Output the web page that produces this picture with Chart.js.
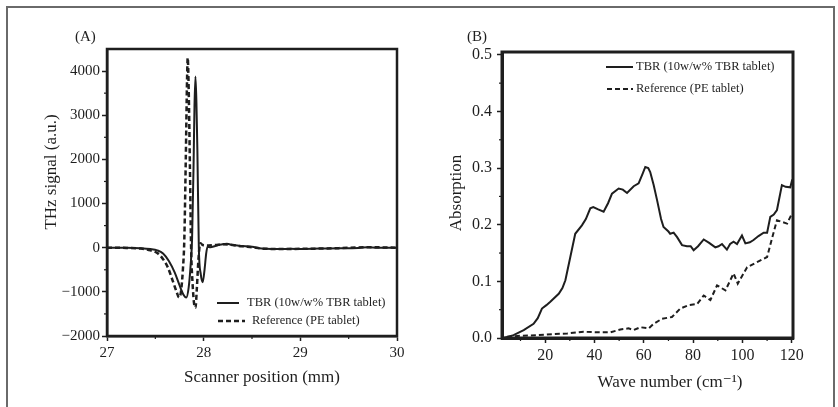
<!DOCTYPE html>
<html><head><meta charset="utf-8">
<script src="https://cdn.jsdelivr.net/npm/chart.js@4.4.1/dist/chart.umd.min.js"></script>
<style>
html,body{margin:0;padding:0;background:#fff;}
body{width:838px;height:407px;position:relative;overflow:hidden;}
#ca{position:absolute;left:0;top:0;}
#cb{position:absolute;left:420px;top:0;}
#frame{position:absolute;left:6px;top:6px;width:825px;height:600px;border:2px solid #6a6a6a;pointer-events:none;}
</style></head><body>
<canvas id="ca" width="420" height="407"></canvas>
<canvas id="cb" width="418" height="407"></canvas>
<div id="frame"></div>
<script>
// ---------- Data ----------
const LEGEND_LABELS = ['TBR (10w/w% TBR tablet)', 'Reference (PE tablet)'];

// Panel A: THz waveforms
const A_X_TICKS = [27, 28, 29, 30];
const A_Y_TICKS = [-2000, -1000, 0, 1000, 2000, 3000, 4000];
const A_X_MINOR = [27.5, 28.5, 29.5];
const A_Y_MINOR = [-1500, -500, 500, 1500, 2500, 3500];

const A_TBR_X = [27.00,27.20,27.35,27.45,27.52,27.58,27.64,27.70,27.75,27.79,27.82,27.845,27.865,27.88,27.895,27.905,27.915,27.925,27.935,27.95,27.97,27.99,28.01,28.025,28.04,28.07,28.12,28.18,28.24,28.30,28.40,28.50,28.60,28.70,28.80,28.90,29.00,29.20,29.40,29.60,29.70,29.80,30.00];
const A_TBR_Y = [0,0,-10,-30,-60,-130,-300,-560,-850,-1060,-1130,-900,-400,200,1800,3200,3880,3300,2200,0,-600,-780,-480,-150,20,10,40,70,90,60,40,20,-20,-30,-30,-25,-30,-20,-15,-5,10,0,0];

const A_REF_X = [27.00,27.20,27.35,27.45,27.52,27.58,27.63,27.68,27.72,27.745,27.765,27.785,27.80,27.815,27.828,27.835,27.845,27.858,27.87,27.885,27.90,27.915,27.93,27.945,27.965,27.99,28.05,28.12,28.20,28.30,28.40,28.50,28.60,28.80,29.00,29.20,29.40,29.70,30.00];
const A_REF_Y = [0,-5,-20,-60,-120,-260,-450,-750,-1000,-1130,-1000,-500,200,2000,3800,4300,3600,1800,0,-800,-1250,-1360,-900,-300,100,60,50,60,80,60,30,10,-20,-30,-25,-20,-10,10,0];

// Panel B: absorption spectra
const B_X_TICKS = [20, 40, 60, 80, 100, 120];
const B_Y_TICKS = [0, 0.1, 0.2, 0.3, 0.4, 0.5];
const B_X_MINOR = [10, 30, 50, 70, 90, 110];
const B_Y_MINOR = [0.05, 0.15, 0.25, 0.35, 0.45];

const B_TBR_X = [3.2,7.2,11.3,15.3,17,18.7,20.5,22.1,25.5,27,28.2,30.2,32.2,34.9,36.5,38.3,39.5,41.5,43.7,45.5,47.1,49.8,51.5,53.2,55.9,57.9,59.5,60.6,61.8,62.6,64,65.4,67,68,70,70.7,72.1,73.5,75.5,77.5,79,80.2,82,84.3,86.5,89,90.3,91.7,93.7,95,96.4,97.8,99.8,101.2,103,104.5,106.5,108.6,110,111.3,112.7,114,116,117.5,119.4,120.2];
const B_TBR_Y = [0,0.005,0.014,0.025,0.035,0.052,0.058,0.064,0.078,0.088,0.102,0.143,0.184,0.199,0.21,0.229,0.231,0.227,0.223,0.238,0.255,0.264,0.262,0.256,0.268,0.273,0.29,0.302,0.300,0.293,0.27,0.243,0.21,0.196,0.188,0.184,0.186,0.178,0.164,0.162,0.162,0.155,0.162,0.174,0.168,0.16,0.162,0.166,0.156,0.166,0.17,0.166,0.181,0.167,0.169,0.173,0.18,0.186,0.186,0.214,0.218,0.226,0.27,0.267,0.266,0.28];

const B_REF_X = [4.5,9.9,16.7,23.4,28.9,35.6,42.4,46.4,50.5,53.8,55.9,58.6,62,64,67.4,71.4,74.8,78.2,81.6,84.3,87,89.7,93.1,96.4,98.1,101.9,105.9,110,112,114,116,118.1,120.1];
const B_REF_Y = [0.002,0.004,0.005,0.007,0.008,0.011,0.01,0.01,0.015,0.017,0.014,0.019,0.017,0.025,0.034,0.037,0.052,0.058,0.06,0.075,0.067,0.093,0.084,0.114,0.096,0.125,0.134,0.143,0.176,0.208,0.205,0.202,0.22];

// ---------- Styling / helpers ----------
const INK = '#1e1e1e';
const SERIF = '"Liberation Serif", "DejaVu Serif", serif';
const pts = (xs, ys) => xs.map((x, i) => ({x: x, y: ys[i]}));

const decor = {
  id: 'decor',
  afterDraw(chart, args, o) {
    const {ctx, chartArea: ca, scales} = chart;
    ctx.save();
    ctx.strokeStyle = INK;
    ctx.lineWidth = o.box;
    ctx.strokeRect(ca.left, ca.top, ca.right - ca.left, ca.bottom - ca.top);
    ctx.lineWidth = 1.2;
    o.minorX.forEach(v => {
      const p = scales.x.getPixelForValue(v);
      ctx.beginPath(); ctx.moveTo(p, ca.bottom); ctx.lineTo(p, ca.bottom + o.minorLen); ctx.stroke();
    });
    o.minorY.forEach(v => {
      const p = scales.y.getPixelForValue(v);
      ctx.beginPath(); ctx.moveTo(ca.left, p); ctx.lineTo(ca.left - o.minorLen, p); ctx.stroke();
    });
    // legend inside plot
    chart.data.datasets.forEach((ds, i) => {
      const L = o.legend[i];
      ctx.strokeStyle = ds.borderColor;
      ctx.lineWidth = ds.borderWidth;
      ctx.setLineDash(ds.borderDash || []);
      ctx.beginPath(); ctx.moveTo(L.x0, L.y); ctx.lineTo(L.x1, L.y); ctx.stroke();
      ctx.setLineDash([]);
      ctx.fillStyle = INK;
      ctx.font = o.legendFont;
      ctx.textAlign = 'left'; ctx.textBaseline = 'middle';
      ctx.fillText(ds.label, L.tx, L.y);
    });
    // panel label and axis titles
    o.texts.forEach(t => {
      ctx.save();
      ctx.translate(t.x, t.y);
      if (t.rot) ctx.rotate(t.rot);
      ctx.fillStyle = INK;
      ctx.font = t.font;
      ctx.textAlign = t.align || 'center'; ctx.textBaseline = 'middle';
      ctx.fillText(t.text, 0, 0);
      ctx.restore();
    });
    ctx.restore();
  }
};

function axis(opts) {
  return {
    type: 'linear',
    min: opts.min, max: opts.max,
    afterFit: s => { if (opts.w !== undefined) s.width = opts.w; if (opts.h !== undefined) s.height = opts.h; },
    afterBuildTicks: s => { s.ticks = opts.ticks.map(v => ({value: v})); },
    ticks: {autoSkip: false, maxRotation: 0, padding: opts.pad, color: INK,
            font: {family: SERIF, size: opts.fs}, callback: opts.cb},
    grid: {display: true, drawOnChartArea: false, drawTicks: true, tickLength: 5,
           tickColor: INK, tickWidth: 1.5},
    border: {display: true, color: INK, width: opts.bw}
  };
}

// ---------- Panel A ----------
new Chart(document.getElementById('ca'), {
  type: 'line',
  data: {datasets: [
    {label: LEGEND_LABELS[0], data: pts(A_TBR_X, A_TBR_Y), borderColor: INK, borderWidth: 2,
     pointRadius: 0, fill: false, cubicInterpolationMode: 'monotone'},
    {label: LEGEND_LABELS[1], data: pts(A_REF_X, A_REF_Y), borderColor: INK, borderWidth: 2.5,
     borderDash: [5, 3], pointRadius: 0, fill: false, cubicInterpolationMode: 'monotone'}
  ]},
  options: {
    responsive: false, animation: false, events: [],
    layout: {padding: {left: 0, top: 49, right: 23, bottom: 0}},
    scales: {
      x: axis({min: 27, max: 30, ticks: A_X_TICKS, h: 71, pad: 3, fs: 15, bw: 2.5, cb: v => String(v)}),
      y: axis({min: -2000, max: 4500, ticks: A_Y_TICKS, w: 107, pad: 2, fs: 15, bw: 2.5,
               cb: v => v < 0 ? '\u2212' + Math.abs(v) : String(v)})
    },
    plugins: {
      legend: {display: false}, tooltip: {enabled: false},
      decor: {
        box: 2.5, minorLen: 3, minorX: A_X_MINOR, minorY: A_Y_MINOR,
        legendFont: '12.5px ' + SERIF,
        legend: [{x0: 217, x1: 239, y: 303, tx: 247}, {x0: 218, x1: 245, y: 321, tx: 252}],
        texts: [
          {text: '(A)', x: 75, y: 37, font: '15px ' + SERIF, align: 'left'},
          {text: 'Scanner position (mm)', x: 262, y: 378, font: '17px ' + SERIF},
          {text: 'THz signal (a.u.)', x: 52, y: 172, font: '17px ' + SERIF, rot: -Math.PI / 2}
        ]
      }
    }
  },
  plugins: [decor]
});

// ---------- Panel B ----------
new Chart(document.getElementById('cb'), {
  type: 'line',
  data: {datasets: [
    {label: LEGEND_LABELS[0], data: pts(B_TBR_X, B_TBR_Y), borderColor: INK, borderWidth: 2,
     pointRadius: 0, fill: false, tension: 0},
    {label: LEGEND_LABELS[1], data: pts(B_REF_X, B_REF_Y), borderColor: INK, borderWidth: 2,
     borderDash: [5, 3], pointRadius: 0, fill: false, tension: 0}
  ]},
  options: {
    responsive: false, animation: false, events: [],
    layout: {padding: {left: 0, top: 52, right: 45, bottom: 0}},
    scales: {
      x: axis({min: 2.5, max: 120.5, ticks: B_X_TICKS, h: 69, pad: 3, fs: 16, bw: 3, cb: v => String(v)}),
      y: axis({min: 0, max: 0.505, ticks: B_Y_TICKS, w: 82, pad: 5, fs: 16, bw: 3, cb: v => v.toFixed(1)})
    },
    plugins: {
      legend: {display: false}, tooltip: {enabled: false},
      decor: {
        box: 3, minorLen: 3, minorX: B_X_MINOR, minorY: B_Y_MINOR,
        legendFont: '12.5px ' + SERIF,
        legend: [{x0: 186, x1: 213, y: 67, tx: 216}, {x0: 187, x1: 213, y: 89, tx: 216}],
        texts: [
          {text: '(B)', x: 47, y: 37, font: '15px ' + SERIF, align: 'left'},
          {text: 'Wave number (cm\u207B\u00B9)', x: 250, y: 383, font: '17px ' + SERIF},
          {text: 'Absorption', x: 37, y: 193, font: '17px ' + SERIF, rot: -Math.PI / 2}
        ]
      }
    }
  },
  plugins: [decor]
});
</script>
</body></html>
